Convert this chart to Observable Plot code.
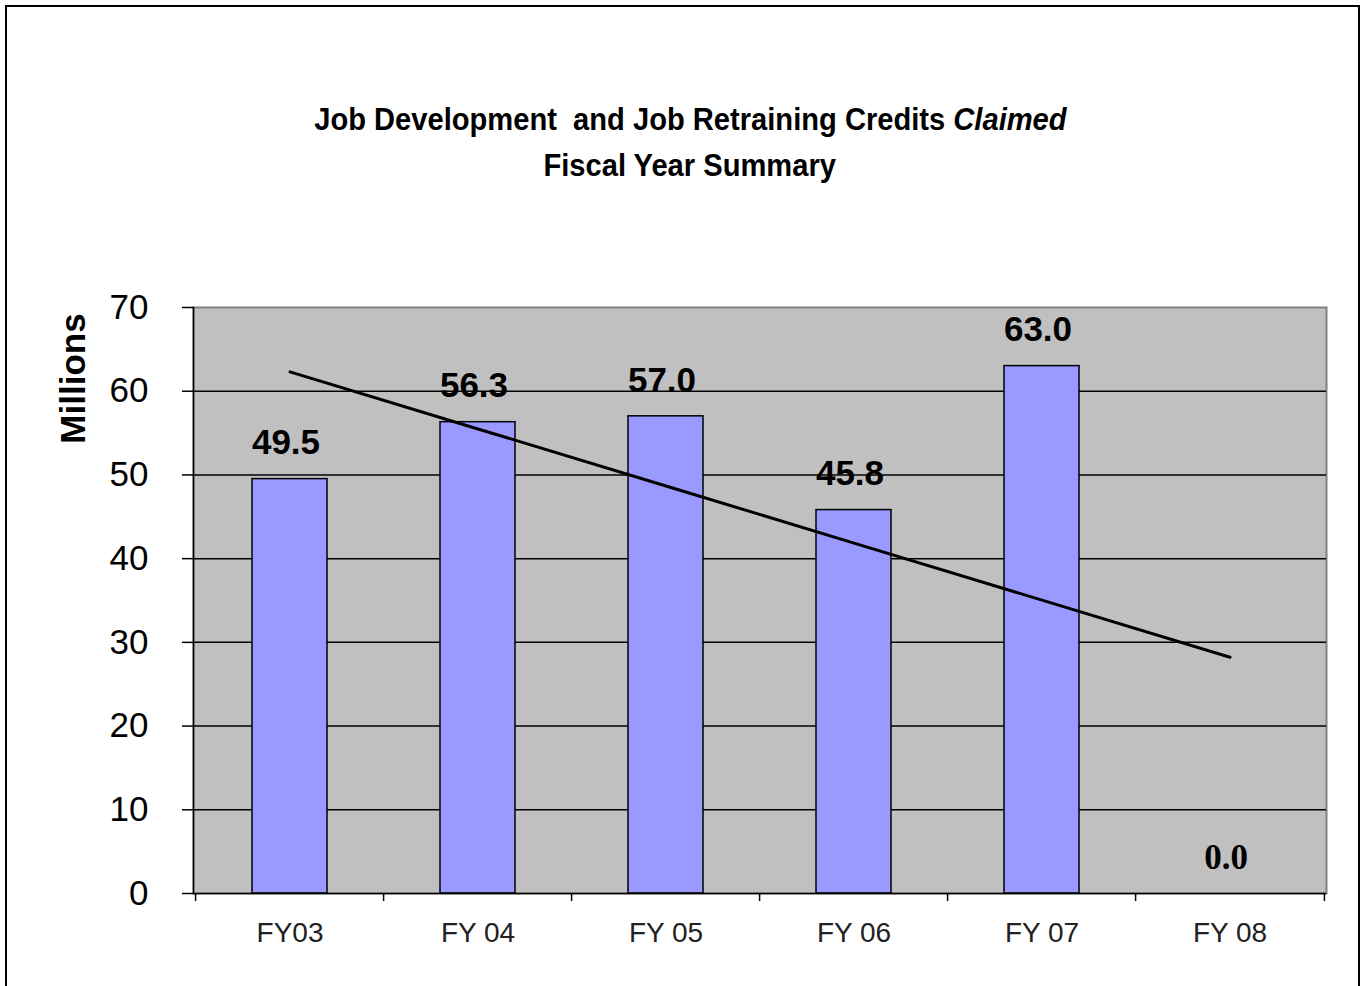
<!DOCTYPE html>
<html>
<head>
<meta charset="utf-8">
<script src="https://cdn.jsdelivr.net/npm/d3@7"></script>
<script src="https://cdn.jsdelivr.net/npm/@observablehq/plot@0.6"></script>
<style>
  html, body { margin: 0; padding: 0; background: #fff; width: 1368px; height: 986px; overflow: hidden; }
  #wrap { position: relative; width: 1368px; height: 986px; }
  #border { position: absolute; left: 5px; top: 5px; width: 1355px; height: 1000px; border: 2px solid #000; box-sizing: border-box; }
  #title { position: absolute; left: 0; top: 96px; width: 1380px; text-align: center;
    font-family: "Liberation Sans", Arial, sans-serif;
    font-weight: bold; font-size: 32px; line-height: 46px; color: #000; }
  #title span { display: inline-block; transform: scaleX(0.91); transform-origin: center; white-space: nowrap; }
  #chart { position: absolute; left: 0; top: 0; }
</style>
</head>
<body>
<div id="wrap">
  <div id="border"></div>
  <div id="chart"></div>
  <div id="title"><span>Job Development&nbsp; and Job Retraining Credits <i>Claimed</i></span><br><span>Fiscal Year Summary</span></div>
</div>
<script>
const categories = ["FY03", "FY 04", "FY 05", "FY 06", "FY 07", "FY 08"];
const values = [49.5, 56.3, 57.0, 45.8, 63.0, 0.0];
const yTicks = [0, 10, 20, 30, 40, 50, 60, 70];
const gridValues = [10, 20, 30, 40, 50, 60];
const yLabel = "Millions";

const data = categories.map((c, i) => ({cat: c, v: values[i]}));

// linear trendline (least squares over the series)
const xs = categories.map((c, i) => i + 1);
const mx = d3.mean(xs), my = d3.mean(values);
const slope = d3.sum(xs, (x, i) => (x - mx) * (values[i] - my)) / d3.sum(xs, x => (x - mx) ** 2);
const intercept = my - slope * mx;
const trend = categories.map((c, i) => ({cat: c, v: intercept + slope * (i + 1)}));

const W = 1368, H = 986, ML = 193, MR = 42, MT = 307, MB = 93;
const step = (W - ML - MR) / categories.length;

const plot = Plot.plot({
  width: W, height: H,
  marginLeft: ML, marginRight: MR, marginTop: MT, marginBottom: MB,
  style: {background: "transparent", fontFamily: "Liberation Sans, Arial, sans-serif", color: "#000"},
  x: {domain: categories, paddingInner: 0.6, paddingOuter: 0.3, label: null},
  y: {domain: [0, 70], label: null},
  marks: [
    Plot.frame({fill: "#c0c0c0", stroke: "#808080", strokeWidth: 2}),
    Plot.text(data.filter(d => d.v !== 0), {x: "cat", y: "v", text: d => d.v.toFixed(1), dy: -36, dx: -4,
      fontSize: 35, fontWeight: "bold", fill: "#000"}),
    Plot.text(data.filter(d => d.v === 0), {x: "cat", y: "v", text: d => d.v.toFixed(1), dy: -36, dx: -4,
      fontSize: 35, fontWeight: "bold", fontFamily: "Liberation Serif, serif", fill: "#000"}),
    Plot.ruleY(gridValues, {stroke: "#000", strokeWidth: 1.5}),
    Plot.barY(data, {x: "cat", y: "v", fill: "#9999ff", stroke: "#000", strokeWidth: 1.5}),
    Plot.line(trend, {x: "cat", y: "v", stroke: "#000", strokeWidth: 3}),
    Plot.frame({anchor: "left", stroke: "#000", strokeWidth: 1.5}),
    Plot.ruleY([0], {stroke: "#000", strokeWidth: 1.5}),
    Plot.ruleX(categories, {x: d => d, y1: 0, y2: 0, insetBottom: -8, dx: -step / 2, stroke: "#000", strokeWidth: 1.5}),
    Plot.ruleX(categories.slice(-1), {x: d => d, y1: 0, y2: 0, insetBottom: -8, dx: step / 2, stroke: "#000", strokeWidth: 1.5}),
    Plot.axisY({ticks: yTicks, tickSize: 11, tickPadding: 34, fontSize: 35, stroke: "#000", strokeWidth: 1.5, label: null}),
    Plot.axisX({tickSize: 0, tickPadding: 29, fontSize: 28, fill: "#222", label: null}),
    Plot.text([yLabel], {frameAnchor: "left", textAnchor: "middle", dx: -120, dy: -222, rotate: -90, text: d => d,
      fontSize: 35, fontWeight: "bold", fill: "#000"})
  ]
});
document.getElementById("chart").appendChild(plot);
</script>
</body>
</html>
